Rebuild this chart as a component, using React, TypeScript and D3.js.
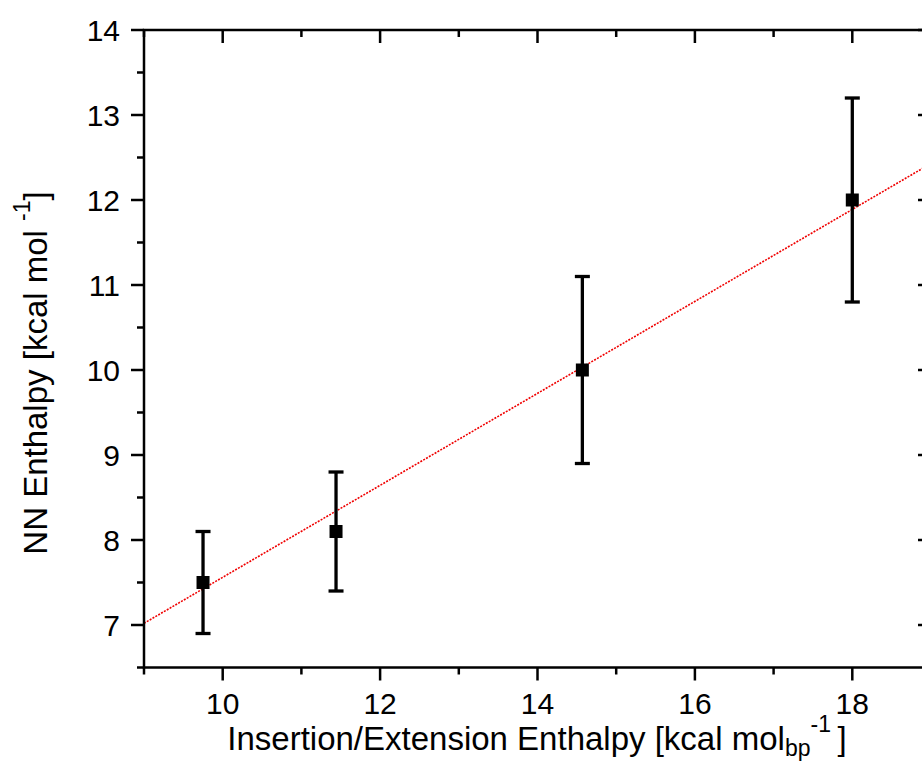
import React from "react";
import { scaleLinear, range } from "d3";

// measured points: x, y and symmetric error
const xValues = [9.75, 11.44, 14.57, 18.0];
const yValues = [7.5, 8.1, 10.0, 12.0];
const yErrors = [0.6, 0.7, 1.1, 1.2];

// linear fit
const fitIntercept = 2.151;
const fitSlope = 0.541;

const xMajorTicks = [10, 12, 14, 16, 18];
const xMinorTicks = [9, 11, 13, 15, 17, 19];
const yMajorTicks = [7, 8, 9, 10, 11, 12, 13, 14];
const yMinorTicks = [6.5, 7.5, 8.5, 9.5, 10.5, 11.5, 12.5, 13.5];

const W = 922;
const H = 761;

export default function App() {
  const x = scaleLinear().domain([9, 19]).range([144, 931]);
  const y = scaleLinear().domain([6.5, 14]).range([667.5, 30]);

  const [x0, x1] = x.range();
  const [y0, y1] = y.range(); // y0 bottom, y1 top

  const major = 13;
  const minor = 7;
  const font = "'Liberation Sans', Arial, Helvetica, sans-serif";

  const fitXs = range(9, 19.001, 10);

  return (
    <svg
      width={W}
      height={H}
      style={{ position: "absolute", left: 0, top: 0, background: "#fff" }}
      fontFamily={font}
    >
      <defs>
        <clipPath id="plot">
          <rect x={x0} y={y1} width={x1 - x0} height={y0 - y1} />
        </clipPath>
      </defs>

      {/* fit line */}
      <line
        clipPath="url(#plot)"
        x1={x(fitXs[0])}
        y1={y(fitIntercept + fitSlope * fitXs[0])}
        x2={x(fitXs[1])}
        y2={y(fitIntercept + fitSlope * fitXs[1])}
        stroke="#f00000"
        strokeWidth={1.6}
        strokeDasharray="2,1.3"
      />

      {/* error bars + markers */}
      {xValues.map((xv, i) => {
        const cx = x(xv);
        const top = y(yValues[i] + yErrors[i]);
        const bot = y(yValues[i] - yErrors[i]);
        return (
          <g key={i} stroke="#000" strokeWidth={3.3}>
            <line x1={cx} x2={cx} y1={top} y2={bot} />
            <line x1={cx - 7.5} x2={cx + 7.5} y1={top} y2={top} />
            <line x1={cx - 7.5} x2={cx + 7.5} y1={bot} y2={bot} />
            <rect x={cx - 6.5} y={y(yValues[i]) - 6.5} width={13} height={13} fill="#000" stroke="none" />
          </g>
        );
      })}

      {/* frame */}
      <rect x={x0} y={y1} width={x1 - x0} height={y0 - y1} fill="none" stroke="#000" strokeWidth={2.5} />

      {/* x ticks: bottom outward, top inward; y ticks: left outward, right inward */}
      <g stroke="#000" strokeWidth={2.5}>
        {xMajorTicks.map((t) => (
          <g key={"xM" + t}>
            <line x1={x(t)} x2={x(t)} y1={y0} y2={y0 + major} />
            <line x1={x(t)} x2={x(t)} y1={y1} y2={y1 + major} />
          </g>
        ))}
        {xMinorTicks.map((t) => (
          <g key={"xm" + t}>
            <line x1={x(t)} x2={x(t)} y1={y0} y2={y0 + minor} />
            <line x1={x(t)} x2={x(t)} y1={y1} y2={y1 + minor} />
          </g>
        ))}
        {yMajorTicks.map((t) => (
          <g key={"yM" + t}>
            <line x1={x0 - major} x2={x0} y1={y(t)} y2={y(t)} />
            <line x1={x1 - major} x2={x1} y1={y(t)} y2={y(t)} />
          </g>
        ))}
        {yMinorTicks.map((t) => (
          <g key={"ym" + t}>
            <line x1={x0 - minor} x2={x0} y1={y(t)} y2={y(t)} />
            <line x1={x1 - minor} x2={x1} y1={y(t)} y2={y(t)} />
          </g>
        ))}
      </g>

      {/* tick labels */}
      <g fontSize={30} fill="#000">
        {xMajorTicks.map((t) => (
          <text key={"xl" + t} x={x(t)} y={714} textAnchor="middle">
            {t}
          </text>
        ))}
        {yMajorTicks.map((t) => (
          <text key={"yl" + t} x={120} y={y(t)} dy="0.36em" textAnchor="end">
            {t}
          </text>
        ))}
      </g>

      {/* axis titles */}
      <text x={537} y={750} fontSize={33} textAnchor="middle" fill="#000">
        Insertion/Extension Enthalpy [kcal mol
        <tspan fontSize={23} dy={6}>bp</tspan>
        <tspan fontSize={23} dy={-24}>-1</tspan>
        <tspan dy={18}>{"\u2009]"}</tspan>
      </text>
      <text
        transform="translate(47,373) rotate(-90)"
        fontSize={33}
        textAnchor="middle"
        fill="#000"
      >
        {"NN Enthalpy [kcal mol "}
        <tspan fontSize={23} dy={-17}>-1</tspan>
        <tspan dy={17}>]</tspan>
      </text>
    </svg>
  );
}
